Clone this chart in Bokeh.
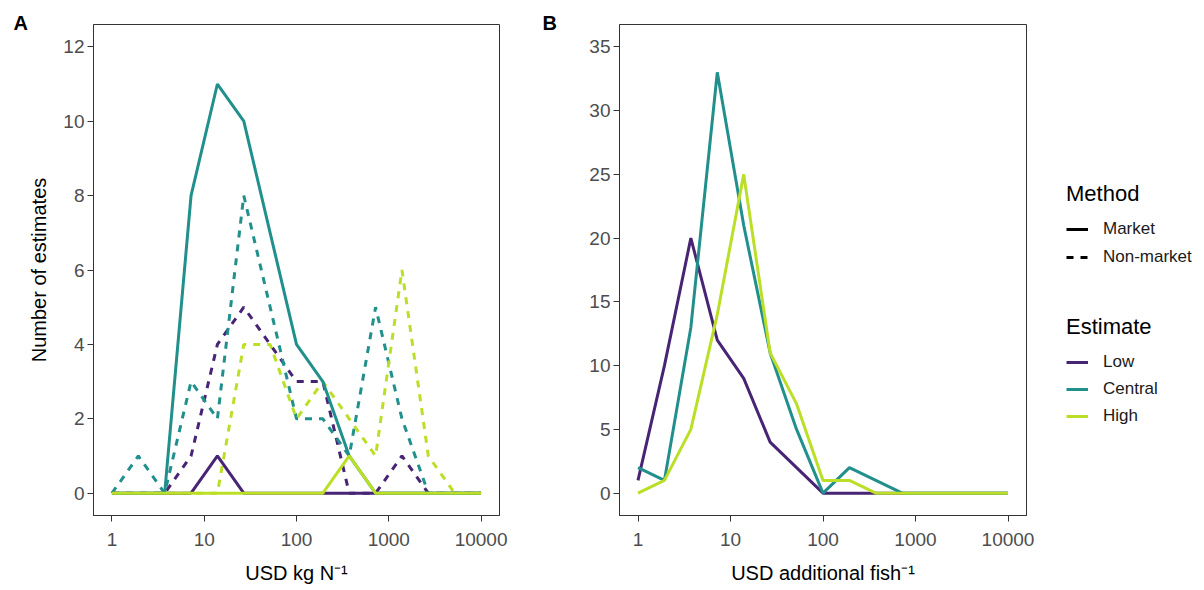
from bokeh.plotting import figure
from bokeh.layouts import row
from bokeh.models import (Range1d, FixedTicker, PrintfTickFormatter, Legend,
                          LegendItem, ColumnDataSource)
from bokeh.embed import file_html
from bokeh.resources import INLINE

# ---------------- data ----------------
# bin centres (log-spaced histogram bins, USD)
bin_centers = [1, 1.9307, 3.7276, 7.1969, 13.895, 26.827, 51.795, 100,
               193.07, 372.76, 719.69, 1389.5, 2682.7, 5179.5, 10000]

estimates = ["Low", "Central", "High"]
colors = {"Low": "#482475", "Central": "#21908C", "High": "#BBDF27"}

# Panel A: USD per kg N
a_market_low = [0, 0, 0, 0, 1, 0, 0, 0, 0, 0, 0, 0, 0, 0, 0]
a_market_central = [0, 0, 0, 8, 11, 10, 7, 4, 3, 1, 0, 0, 0, 0, 0]
a_market_high = [0, 0, 0, 0, 0, 0, 0, 0, 0, 1, 0, 0, 0, 0, 0]
a_nonmarket_low = [0, 0, 0, 1, 4, 5, 4, 3, 3, 0, 0, 1, 0, 0, 0]
a_nonmarket_central = [0, 1, 0, 3, 2, 8, 5, 2, 2, 1, 5, 2, 0, 0, 0]
a_nonmarket_high = [0, 0, 0, 0, 0, 4, 4, 2, 3, 2, 1, 6, 1, 0, 0]

# Panel B: USD per additional fish (market only)
b_market_low = [1, 10, 20, 12, 9, 4, 2, 0, 0, 0, 0, 0, 0, 0, 0]
b_market_central = [2, 1, 13, 33, 21, 11, 5, 0, 2, 1, 0, 0, 0, 0, 0]
b_market_high = [0, 1, 5, 14, 25, 11, 7, 1, 1, 0, 0, 0, 0, 0, 0]

x_ticks = [1, 10, 100, 1000, 10000]
a_y_ticks = [0, 2, 4, 6, 8, 10, 12]
b_y_ticks = [0, 5, 10, 15, 20, 25, 30, 35]

FONT = "Liberation Sans"
H = 586
DASH = "7 7"


def style(p, yticks, xlabel, ylabel=None):
    p.xaxis.ticker = FixedTicker(ticks=x_ticks, minor_ticks=[])
    p.xaxis.formatter = PrintfTickFormatter(format="%d")
    p.yaxis.ticker = FixedTicker(ticks=yticks, minor_ticks=[])
    p.grid.visible = False
    p.outline_line_color = "#333333"
    p.outline_line_width = 1
    for ax in (p.xaxis, p.yaxis):
        ax.axis_line_color = "#333333"
        ax.major_tick_line_color = "#333333"
        ax.major_tick_in = 0
        ax.major_tick_out = 6
        ax.minor_tick_line_color = None
        ax.major_label_text_font = FONT
        ax.major_label_text_font_size = "19px"
        ax.major_label_text_color = "#4D4D4D"
        ax.axis_label_text_font = FONT
        ax.axis_label_text_font_size = "20px"
        ax.axis_label_text_font_style = "normal"
        ax.axis_label_text_color = "#000000"
    p.xaxis.major_label_standoff = 11
    p.yaxis.major_label_standoff = 3
    p.xaxis.axis_label = xlabel
    p.xaxis.axis_label_standoff = 13
    if ylabel:
        p.yaxis.axis_label = ylabel
        p.yaxis.axis_label_standoff = 10
    p.background_fill_color = "white"
    p.border_fill_color = "white"


def panel_title(p, text, offset):
    p.title.text = text
    p.title.align = "left"
    p.title.offset = offset
    p.title.vertical_align = "bottom"
    p.title.standoff = -18
    p.title.text_font = FONT
    p.title.text_font_size = "20px"
    p.title.text_font_style = "bold"
    p.title.text_color = "black"


# ---------------- Panel A ----------------
pa = figure(width=530, height=H, x_axis_type="log",
            x_range=Range1d(10 ** -0.2, 10 ** 4.2), y_range=Range1d(-0.6, 12.6),
            output_backend="svg", toolbar_location=None,
            min_border_left=93, min_border_right=31, min_border_top=24,
            min_border_bottom=71)
style(pa, a_y_ticks, "USD kg N\u207b\u00b9", "Number of estimates")
panel_title(pa, "A", -80)

# dashed (non-market) first, solid (market) on top
for est, vals in [("Low", a_nonmarket_low), ("Central", a_nonmarket_central),
                  ("High", a_nonmarket_high)]:
    src = ColumnDataSource(dict(x=bin_centers, y=vals))
    pa.line("x", "y", source=src, line_color=colors[est], line_width=3,
            line_dash=DASH)
for est, vals in [("Low", a_market_low), ("Central", a_market_central),
                  ("High", a_market_high)]:
    src = ColumnDataSource(dict(x=bin_centers, y=vals))
    pa.line("x", "y", source=src, line_color=colors[est], line_width=3)

# ---------------- Panel B ----------------
pb = figure(width=510, height=H, x_axis_type="log",
            x_range=Range1d(10 ** -0.2, 10 ** 4.2), y_range=Range1d(-1.75, 36.75),
            output_backend="svg", toolbar_location=None,
            min_border_left=89, min_border_right=14, min_border_top=23,
            min_border_bottom=71)
style(pb, b_y_ticks, "USD additional fish\u207b\u00b9")
panel_title(pb, "B", -77)
for est, vals in [("Low", b_market_low), ("Central", b_market_central),
                  ("High", b_market_high)]:
    src = ColumnDataSource(dict(x=bin_centers, y=vals))
    pb.line("x", "y", source=src, line_color=colors[est], line_width=3)

# ---------------- Legend panel ----------------
# legend-only figure: its ranges lie outside the data, so only legend glyphs show
pl = figure(width=156, height=H, x_range=Range1d(-2, -1), y_range=Range1d(-2, -1),
            output_backend="svg", toolbar_location=None, min_border=0,
            x_axis_location=None, y_axis_location=None)
pl.grid.visible = False
pl.outline_line_color = None
r_market = pl.line(bin_centers, a_market_central, line_color="black", line_width=3)
r_nonmarket = pl.line(bin_centers, a_nonmarket_central, line_color="black",
                      line_width=3, line_dash=DASH)
r_est = {
    "Low": pl.line(bin_centers, b_market_low, line_color=colors["Low"], line_width=3),
    "Central": pl.line(bin_centers, b_market_central, line_color=colors["Central"], line_width=3),
    "High": pl.line(bin_centers, b_market_high, line_color=colors["High"], line_width=3),
}


def make_legend(title, items, loc, spacing):
    leg = Legend(items=items, title=title, location=loc)
    leg.title_text_font = FONT
    leg.title_text_font_size = "22px"
    leg.title_text_font_style = "normal"
    leg.title_text_color = "black"
    leg.title_standoff = 12
    leg.label_text_font = FONT
    leg.label_text_font_size = "17px"
    leg.label_text_color = "#1A1A1A"
    leg.glyph_width = 22
    leg.glyph_height = 20
    leg.label_height = 20
    leg.label_standoff = 15
    leg.spacing = spacing
    leg.padding = 0
    leg.margin = 0
    leg.border_line_color = None
    leg.background_fill_alpha = 0
    return leg


leg_method = make_legend("Method", [LegendItem(label="Market", renderers=[r_market]),
                                    LegendItem(label="Non-market", renderers=[r_nonmarket])],
                         (26, 248), 8)
leg_est = make_legend("Estimate", [LegendItem(label=e, renderers=[r_est[e]]) for e in estimates],
                      (26, 89), 7)
pl.add_layout(leg_method)
pl.add_layout(leg_est)

layout = row(pa, pb, pl)
open("out.html", "w").write(file_html(layout, INLINE))
